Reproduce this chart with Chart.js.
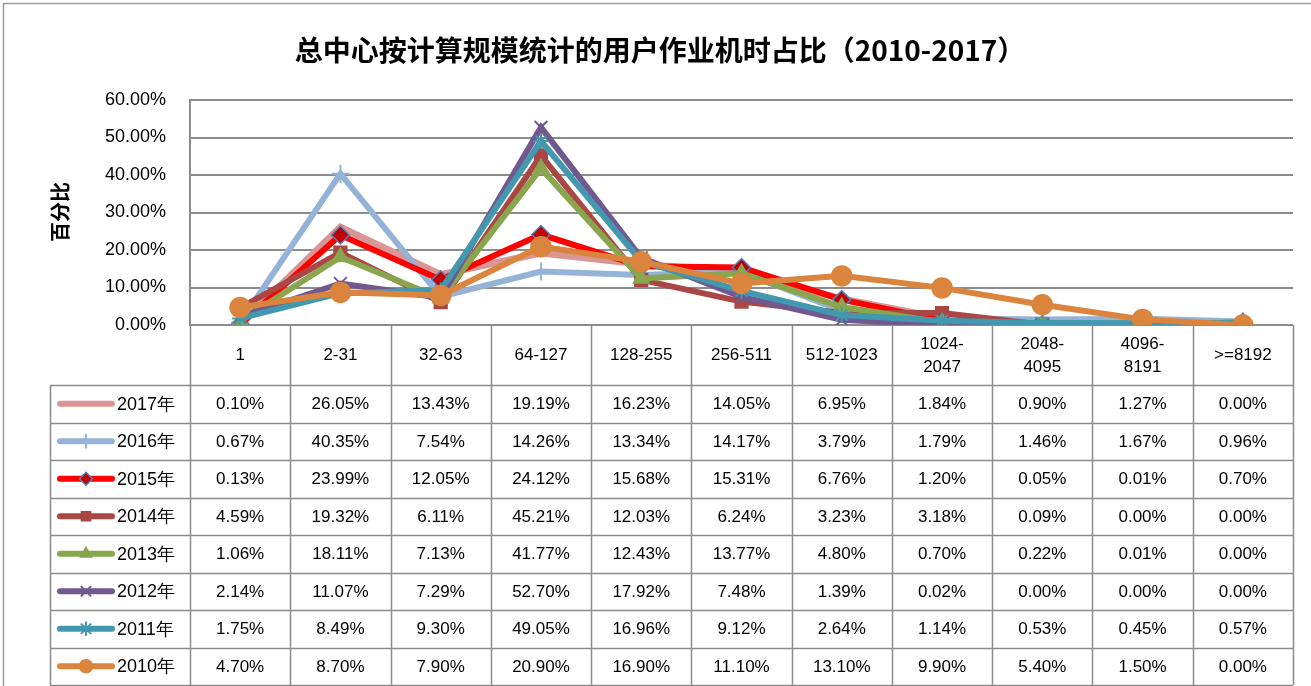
<!DOCTYPE html>
<html>
<head>
<meta charset="utf-8">
<script src="https://cdn.jsdelivr.net/npm/chart.js@4/dist/chart.umd.min.js"></script>
<style>
  html, body { margin: 0; padding: 0; background: #fff; }
  #wrap { width: 1311px; height: 686px; position: relative; }
</style>
</head>
<body>
<div id="wrap"><canvas id="c" width="1311" height="686"></canvas></div>
<script>
// categories (job scale) and tick labels
const categories = ['1', '2-31', '32-63', '64-127', '128-255', '256-511', '512-1023', ['1024-', '2047'], ['2048-', '4095'], ['4096-', '8191'], '>=8192'];
const yTicks = [0, 10, 20, 30, 40, 50, 60];
const seriesNames = ['2017年', '2016年', '2015年', '2014年', '2013年', '2012年', '2011年', '2010年'];
const chartTitle = '总中心按计算规模统计的用户作业机时占比（2010-2017）';
const yTitle = '百分比';

// values in percent
const y2017 = [0.10, 26.05, 13.43, 19.19, 16.23, 14.05, 6.95, 1.84, 0.90, 1.27, 0.00];
const y2016 = [0.67, 40.35, 7.54, 14.26, 13.34, 14.17, 3.79, 1.79, 1.46, 1.67, 0.96];
const y2015 = [0.13, 23.99, 12.05, 24.12, 15.68, 15.31, 6.76, 1.20, 0.05, 0.01, 0.70];
const y2014 = [4.59, 19.32, 6.11, 45.21, 12.03, 6.24, 3.23, 3.18, 0.09, 0.00, 0.00];
const y2013 = [1.06, 18.11, 7.13, 41.77, 12.43, 13.77, 4.80, 0.70, 0.22, 0.01, 0.00];
const y2012 = [2.14, 11.07, 7.29, 52.70, 17.92, 7.48, 1.39, 0.02, 0.00, 0.00, 0.00];
const y2011 = [1.75, 8.49, 9.30, 49.05, 16.96, 9.12, 2.64, 1.14, 0.53, 0.45, 0.57];
const y2010 = [4.70, 8.70, 7.90, 20.90, 16.90, 11.10, 13.10, 9.90, 5.40, 1.50, 0.00];

const seriesData = [y2017, y2016, y2015, y2014, y2013, y2012, y2011, y2010];
const lineColors = ['#D99694', '#95B3D7', '#FF0000', '#AA4643', '#89A54E', '#71588F', '#4198AF', '#DB843D'];
const markerFill = ['#D99694', '#95B3D7', '#C00000', '#AA4643', '#89A54E', '#71588F', '#4198AF', '#DB843D'];
const markerEdge = ['#D99694', '#95B3D7', '#4F81BD', '#AA4643', '#89A54E', '#71588F', '#4198AF', '#DB843D'];
const markers = [false, 'cross', 'rectRot', 'rect', 'triangle', 'crossRot', 'star', 'circle'];
const markerSize = [0, 9, 9, 9, 9, 9, 8, 10];

const FONT = '"Liberation Sans", Arial, sans-serif';
const CJK = '"Noto Sans CJK SC", sans-serif';
const GRID = '#8c8c8c';

const datasets = seriesData.map((d, i) => ({
  label: seriesNames[i],
  data: d,
  borderColor: lineColors[i],
  backgroundColor: markerFill[i],
  borderWidth: i === 0 ? 7 : 6,
  pointStyle: markers[i],
  pointRadius: markerSize[i],
  pointBackgroundColor: markerFill[i],
  pointBorderColor: markerEdge[i],
  pointBorderWidth: (markers[i] === 'cross' || markers[i] === 'crossRot' || markers[i] === 'star') ? 2 : 1.5,
  tension: 0,
  order: seriesData.length - 1 - i
}));

const fmt = v => v.toFixed(2) + '%';

const tablePlugin = {
  id: 'dataTable',
  afterDraw(chart) {
    const ctx = chart.ctx;
    const area = chart.chartArea;
    const xs = chart.scales.x;
    const n = categories.length;
    const colW = (area.right - area.left) / n;
    const headTop = area.bottom;
    const headBottom = headTop + 60;
    const rowH = 37.5;
    const legLeft = 50;
    const tableBottom = headBottom + rowH * seriesNames.length;

    ctx.save();
    // outer chart border
    ctx.strokeStyle = '#9a9a9a';
    ctx.lineWidth = 1.5;
    ctx.strokeRect(3.5, 3.5, 1330, 720);

    // title
    ctx.fillStyle = '#000';
    ctx.font = 'bold 28px ' + CJK;
    ctx.textAlign = 'center';
    ctx.textBaseline = 'middle';
    ctx.fillText(chartTitle, 660, 50);

    // table grid
    ctx.strokeStyle = GRID;
    ctx.lineWidth = 1.5;
    ctx.beginPath();
    for (let i = 0; i <= n; i++) {
      const x = Math.round(area.left + i * colW) + 0.5;
      ctx.moveTo(x, headTop);
      ctx.lineTo(x, tableBottom);
    }
    ctx.moveTo(legLeft + 0.5, headBottom);
    ctx.lineTo(legLeft + 0.5, tableBottom);
    for (let r = 0; r <= seriesNames.length; r++) {
      const y = Math.round(headBottom + r * rowH) + 0.5;
      ctx.moveTo(legLeft, y);
      ctx.lineTo(area.right, y);
    }
    ctx.stroke();

    // header labels
    ctx.fillStyle = '#000';
    ctx.font = '17px ' + FONT;
    categories.forEach((c, i) => {
      const x = xs.getPixelForValue(i);
      const cy = (headTop + headBottom) / 2;
      if (Array.isArray(c)) {
        ctx.fillText(c[0], x, cy - 11);
        ctx.fillText(c[1], x, cy + 12);
      } else {
        ctx.fillText(c, x, cy);
      }
    });

    // rows
    seriesData.forEach((d, r) => {
      const cy = headBottom + r * rowH + rowH / 2;
      // legend swatch
      ctx.strokeStyle = lineColors[r];
      ctx.lineWidth = 6;
      ctx.lineCap = 'round';
      ctx.beginPath();
      ctx.moveTo(60, cy);
      ctx.lineTo(112, cy);
      ctx.stroke();
      if (markers[r]) {
        ctx.fillStyle = markerFill[r];
        ctx.strokeStyle = markerEdge[r];
        ctx.lineWidth = datasets[r].pointBorderWidth;
        Chart.helpers.drawPoint(ctx, { pointStyle: markers[r], radius: 6.5, borderWidth: datasets[r].pointBorderWidth, rotation: 0 }, 86, cy);
      }
      ctx.fillStyle = '#000';
      ctx.textAlign = 'left';
      ctx.font = '18px ' + FONT;
      ctx.fillText(seriesNames[r], 117, cy + 1);
      ctx.textAlign = 'center';
      ctx.font = '17px ' + FONT;
      d.forEach((v, i) => {
        ctx.fillText(fmt(v), xs.getPixelForValue(i), cy + 1);
      });
    });

    // y axis title
    ctx.translate(60, 212);
    ctx.rotate(-Math.PI / 2);
    ctx.font = 'bold 20px ' + CJK;
    ctx.textAlign = 'center';
    ctx.fillText(yTitle, 0, 0);
    ctx.restore();
  }
};

new Chart(document.getElementById('c'), {
  type: 'line',
  data: { labels: categories, datasets },
  options: {
    responsive: false,
    animation: false,
    layout: { padding: { top: 100, bottom: 361, right: 18, left: 0 } },
    plugins: {
      legend: { display: false },
      tooltip: { enabled: false },
      title: { display: false }
    },
    scales: {
      x: {
        type: 'category',
        offset: true,
        display: false
      },
      y: {
        min: 0,
        max: 60,
        afterFit(scale) { scale.width = 190; },
        afterBuildTicks(scale) { scale.ticks = yTicks.map(v => ({ value: v })); },
        grid: { color: GRID, lineWidth: 2, drawTicks: false },
        border: { color: GRID, width: 2 },
        ticks: {
          padding: 24,
          color: '#000',
          font: { family: FONT, size: 18 },
          callback: v => v.toFixed(2) + '%'
        }
      }
    }
  },
  plugins: [tablePlugin]
});
</script>
</body>
</html>
